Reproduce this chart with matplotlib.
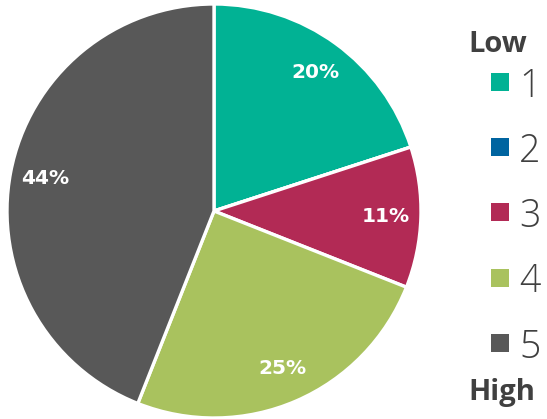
import matplotlib.pyplot as plt
from matplotlib.patches import Rectangle

plt.rcParams['font.family'] = ['Open Sans', 'DejaVu Sans']

categories = ['1', '2', '3', '4', '5']
shares = [20, 0, 11, 25, 44]
colors = ['#01B294', '#0064A0', '#B22A55', '#A9C25E', '#585858']

W, H = 547, 419
fig = plt.figure(figsize=(W / 100, H / 100), dpi=100)

# pie axes: centre (214, 211), radius 207 px
cx, cy, r = 214, 211, 207
ax = fig.add_axes([(cx - r) / W, (H - cy - r) / H, 2 * r / W, 2 * r / H])

wedges, texts, autotexts = ax.pie(
    shares, colors=colors, startangle=90, counterclock=False,
    autopct=lambda p: f'{p:.0f}%' if p > 0 else '',
    pctdistance=0.83,
    wedgeprops=dict(edgecolor='white', linewidth=2.4),
    textprops=dict(color='white', fontsize=14.5, fontweight='bold',
                   family='DejaVu Sans'))
ax.set_aspect('equal')
ax.set_xlim(-1, 1)
ax.set_ylim(-1, 1)

# legend column
fig.text(498 / W, 1 - 44 / H, 'Low', ha='center', va='center',
         fontsize=21, fontweight='bold', color='#404040')
fig.text(502 / W, 1 - 392 / H, 'High', ha='center', va='center',
         fontsize=21, fontweight='bold', color='#404040')

y0, step = 82, 65.2
for i, (cat, col) in enumerate(zip(categories, colors)):
    yc = y0 + i * step
    fig.add_artist(Rectangle((491 / W, 1 - (yc + 9) / H), 18 / W, 18 / H,
                             transform=fig.transFigure, facecolor=col,
                             edgecolor='none'))
    fig.text(519 / W, 1 - yc / H, cat, ha='left', va='center_baseline',
             fontsize=27, fontweight='light', color='#404040')

fig.savefig('out.png', dpi=100)
